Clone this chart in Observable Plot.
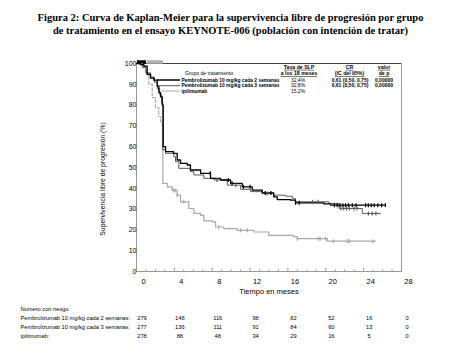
<!DOCTYPE html>
<html><head><meta charset="utf-8">
<script src="https://cdn.jsdelivr.net/npm/d3@7"></script>
<script src="https://cdn.jsdelivr.net/npm/@observablehq/plot@0.6"></script>
<style>
body{margin:0;background:#fff;width:461px;overflow:hidden;}
#title{height:40px;box-sizing:border-box;padding-top:10.5px;font:bold 10.5px/13.7px "Liberation Serif","Times New Roman",serif;text-align:center;color:#000;white-space:nowrap;}
svg{display:block;}
</style></head><body>
<div id="title">Figura 2: Curva de Kaplan-Meier para la supervivencia libre de progresión por grupo<br>de tratamiento en el ensayo KEYNOTE-006 (población con intención de tratar)</div>
<div id="chart"></div>
<div id="risk"></div>
<script>
// ---------- data ----------
const groups = ["Pembrolizumab 10 mg/kg cada 2 semanas", "Pembrolizumab 10 mg/kg cada 3 semanas", "ipilimumab"];
const groupColors = ["#000000", "#5a5a5a", "#a8a8a8"];

const q2wTime = [0,0.4,0.77,1.13,1.48,1.83,2.19,2.36,2.54,2.72,2.82,3.07,3.9,4.3,4.65,5.36,5.7,6.77,7.82,8.88,9.94,11.17,12.23,13.29,14.5,14.87,16.28,16.8,19.8,20.5,26.3];
const q2wSurv = [100,99.5,98.7,94.7,93,92,89,86,84,80,60,57.6,56.8,53.6,52,51.2,48.8,47.2,44.8,44,42.4,40.7,39.1,37.8,35.9,34.6,34.3,33,32.5,31.9,31.9];

const q3wTime = [0,0.6,1.0,1.5,1.9,2.2,2.45,2.65,2.78,3.07,3.94,4.12,4.47,5.7,6.06,7.11,8.17,9.59,11.0,12.05,13.29,14.5,15.75,16.46,16.8,20.33,21.4,23.86,25.8];
const q3wSurv = [100,98,95.5,93.5,91,88,85,81,58.5,56.8,55.2,52.8,49.6,48,46.4,44.8,44,41.5,39.5,38.4,37.5,36.7,36.2,35,33.5,32.7,30.3,27.9,27.9];

const ipiEarlyTime = [0,0.6,0.95,1.3,1.66,2.0,2.36,2.54,2.72];
const ipiEarlySurv = [100,98.9,95,90,83.6,78.7,74.5,72,69.7];
const ipiTime = [2.72,2.78,3.25,3.77,4.3,4.65,5.53,6.06,6.77,7.11,8.0,8.35,9.23,10.64,12.4,13.98,16.6,17.0,20.16,25.26];
const ipiSurv = [69.7,42.4,40.7,39,36.7,33.5,30.3,27.9,27,24.3,23.9,21.4,20.6,19.8,19,17.4,16.6,15.8,14.6,14.6];

const q2wCensor = [7.8,9.7,10.1,11.3,12.0,13.6,14.2,16.8,17.2,20.9,21.2,21.5,21.8,22.1,22.4,22.8,23.2,24.2,24.5,24.8,25.1,25.5,25.9,26.3];
const q3wCensor = [8.5,10.5,13.8,18.6,19.2,21.6,21.9,22.2,22.5,23.0,23.3,24.5,24.9,25.3];
const ipiCensor = [3.9,4.1,4.3,5.0,8.7,11.0,11.7,17.0,19.2,19.4,20.0,20.8,22.3,22.5,25.0];

const topBandStart = [0.1, 1.15];
const topBandEnd = [1.05, 2.85];
const topBandColor = ["#000000", "#b0b0b0"];

const xTicks = [0,4,8,12,16,20,24,28];
const yTicks = [0,10,20,30,40,50,60,70,80,90,100];

const xTitle = "Tiempo en meses";
const yTitle = "Supervivencia libre de progresión (%)";
const legendTitle = "Grupo de tratamiento";
const legendRates = ["32,4%","32,8%","15,2%"];
const legendHR = ["0,61 (0,50, 0,75)","0,61 (0,50, 0,75)",""];
const legendP = ["0,00000","0,00000",""];

const riskTitle = "Numero con riesgo";
const riskTimes = [0,4,8,12,16,20,24,28];
const riskQ2w = [279,148,116,98,82,52,16,0];
const riskQ3w = [277,136,111,91,84,60,13,0];
const riskIpi = [278,88,48,34,29,16,5,0];

// ---------- helpers ----------
const toRows = (ts, ss) => ts.map((t, i) => ({t, s: ss[i]}));
const survAt = (ts, ss, t) => { let v = ss[0]; for (let i = 0; i < ts.length; i++) if (ts[i] <= t) v = ss[i]; return v; };
const censorRows = (cs, ts, ss) => cs.map(t => ({t, s: survAt(ts, ss, t)}));
const tickSymbol = {draw(ctx, size){ const r = Math.sqrt(size / Math.PI); ctx.moveTo(0, -r); ctx.lineTo(0, r); }};

const font = "'Liberation Sans', Arial, sans-serif";

function legend() {
  const g = d3.create("svg:g").attr("font-family", font).attr("fill", "#000").attr("text-anchor", "start");
  const rowsY = [40, 45.7, 51];
  const lineX1 = [157, 158, 161.5];
  const widths = [1.5, 1, 1];
  // y axis title
  g.append("text").attr("transform", "translate(103,139) rotate(-90)").attr("dy", "0.35em")
    .attr("text-anchor", "middle").attr("font-size", 6.8).text(yTitle);
  g.append("text").attr("x", 209).attr("y", 33.5).attr("dy", "0.35em").attr("text-anchor", "middle").attr("font-size", 5.1).text(legendTitle);
  const heads = [["Tasa de SLP", "a los 18 meses", 299], ["CR", "(IC del 95%)", 349.5], ["valor", "de p", 384]];
  for (const [a, b, x] of heads) {
    g.append("text").attr("x", x).attr("y", 27).attr("dy", "0.35em").attr("text-anchor", "middle").attr("font-size", 5.2).attr("font-weight", "bold").attr("text-decoration", "underline").text(a);
    g.append("text").attr("x", x).attr("y", 33.5).attr("dy", "0.35em").attr("text-anchor", "middle").attr("font-size", 5.2).attr("font-weight", "bold").attr("text-decoration", "underline").text(b);
  }
  groups.forEach((name, i) => {
    const y = rowsY[i];
    g.append("line").attr("x1", lineX1[i]).attr("x2", 180).attr("y1", y).attr("y2", y).attr("stroke", groupColors[i]).attr("stroke-width", widths[i]);
    g.append("text").attr("x", 181.5).attr("y", y).attr("dy", "0.35em").attr("text-anchor", "start").attr("font-size", 4.9).attr("font-weight", "bold").text(name);
    g.append("text").attr("x", 298).attr("y", y).attr("dy", "0.35em").attr("text-anchor", "middle").attr("font-size", 5).text(legendRates[i]);
    g.append("text").attr("x", 350).attr("y", y).attr("dy", "0.35em").attr("text-anchor", "middle").attr("font-size", 5).attr("font-weight", "bold").text(legendHR[i]);
    g.append("text").attr("x", 384).attr("y", y).attr("dy", "0.35em").attr("text-anchor", "middle").attr("font-size", 5).attr("font-weight", "bold").text(legendP[i]);
  });
  return g.node();
}

const topBands = topBandStart.map((a, i) => ({x1: a, x2: topBandEnd[i], c: topBandColor[i]}));
const minorTicks = d3.range(0, 28.01, 1);

const chart = Plot.plot({
  width: 461, height: 262,
  marginLeft: 136, marginRight: 60, marginTop: 23, marginBottom: 31,
  x: {domain: [0, 28], axis: null},
  y: {domain: [0, 100], axis: null},
  style: {fontFamily: font, background: "#fff", overflow: "visible", color: "#000"},
  marks: [
    Plot.frame({stroke: "#999"}),
    Plot.ruleY([100], {stroke: "#444"}),
    Plot.ruleX(minorTicks, {x: d => d, y1: 0, y2: d => d % 4 === 0 ? 1.6 : 0.8, stroke: "#999"}),
    Plot.axisX({ticks: xTicks, tickSize: 0, tickPadding: 7, fontSize: 7.5, dx: 7, tickFormat: d => d, label: null}),
    Plot.axisY({ticks: yTicks, tickSize: 0, tickPadding: 0, fontSize: 7, label: null}),
    Plot.text([xTitle], {frameAnchor: "bottom", dy: 22, fontSize: 7.5, text: d => d}),
    Plot.ruleY(topBands, {y: 100, x1: "x1", x2: "x2", stroke: "c", strokeWidth: 3.5, dy: -1.5}),
    Plot.line(toRows(ipiEarlyTime, ipiEarlySurv), {x: "t", y: "s", curve: "step-after", stroke: groupColors[2], strokeWidth: 1.1, strokeDasharray: "3,2"}),
    Plot.line(toRows(ipiTime, ipiSurv), {x: "t", y: "s", curve: "step-after", stroke: groupColors[2], strokeWidth: 1.2}),
    Plot.line(toRows(q3wTime, q3wSurv), {x: "t", y: "s", curve: "step-after", stroke: groupColors[1], strokeWidth: 1}),
    Plot.line(toRows(q2wTime, q2wSurv), {x: "t", y: "s", curve: "step-after", stroke: groupColors[0], strokeWidth: 1.3}),
    Plot.dot(censorRows(ipiCensor, ipiTime, ipiSurv), {x: "t", y: "s", symbol: tickSymbol, r: 2, stroke: groupColors[2], strokeWidth: 1.2, fill: "none"}),
    Plot.dot(censorRows(q3wCensor, q3wTime, q3wSurv), {x: "t", y: "s", symbol: tickSymbol, r: 2, stroke: groupColors[1], strokeWidth: 1.2, fill: "none"}),
    Plot.dot(censorRows(q2wCensor, q2wTime, q2wSurv), {x: "t", y: "s", symbol: tickSymbol, r: 2, stroke: groupColors[0], strokeWidth: 1.2, fill: "none"}),
    legend
  ]
});
document.getElementById("chart").append(chart);

const riskRowsKey = ["hdr", ...groups];
const riskData = [];
[riskQ2w, riskQ3w, riskIpi].forEach((arr, gi) => arr.forEach((n, i) => riskData.push({t: riskTimes[i], g: groups[gi], n})));
const riskLabels = [{g: "hdr", label: riskTitle}, ...groups.map(g => ({g, label: g + ":"}))];

const risk = Plot.plot({
  width: 461, height: 55,
  marginLeft: 136, marginRight: 60, marginTop: 7, marginBottom: 21,
  x: {domain: [0, 28], axis: null},
  y: {type: "point", domain: riskRowsKey, axis: null, padding: 0},
  style: {fontFamily: font, background: "#fff", overflow: "visible", color: "#000"},
  marks: [
    Plot.text(riskLabels, {y: "g", text: "label", frameAnchor: "left", dx: -116, textAnchor: "start", fontSize: 5.7}),
    Plot.text(riskData, {x: "t", y: "g", text: "n", dx: 5.5, fontSize: 5.7})
  ]
});
document.getElementById("risk").append(risk);
</script>
</body></html>
